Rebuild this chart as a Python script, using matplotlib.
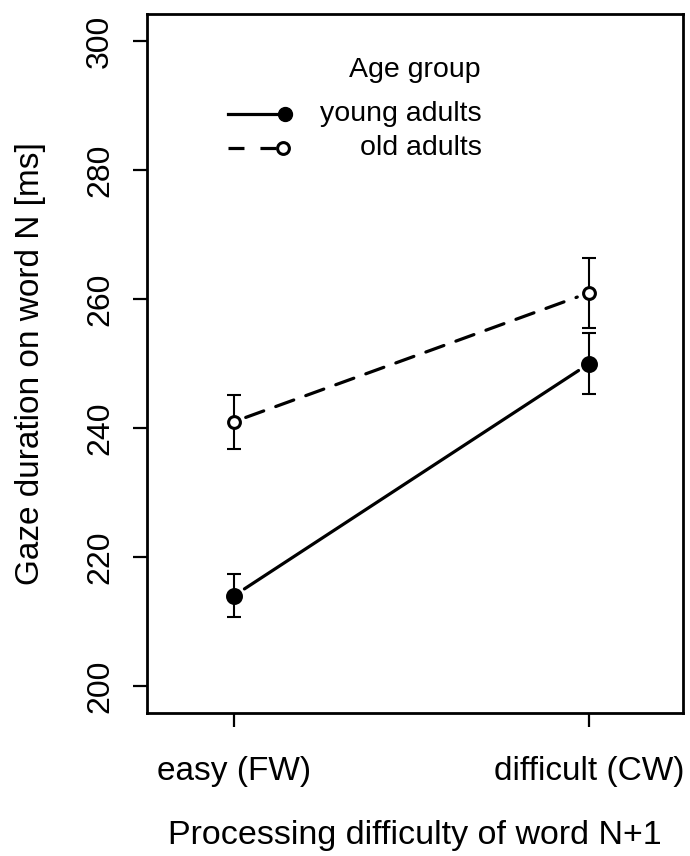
import matplotlib
matplotlib.use("Agg")
import matplotlib.pyplot as plt

conditions = ["easy (FW)", "difficult (CW)"]
young_means = [214, 250]
young_se = [3.3, 4.7]
old_means = [241, 261]
old_se = [4.2, 5.4]
y_ticks = [200, 220, 240, 260, 280, 300]

plt.rcParams['font.family'] = ['Liberation Sans', 'DejaVu Sans']

fig = plt.figure(figsize=(6.9, 8.56), dpi=100)
ax = fig.add_axes([0.213, 0.167, 0.777, 0.817])

xpos = [1, 2]
dash = (0, (6, 4))

def draw_group(means, se, dashed, filled):
    ax.errorbar(xpos, means, yerr=se, fmt='none', ecolor='black',
                elinewidth=1.5, capsize=5, capthick=1.5, zorder=2)
    ax.plot(xpos, means, linestyle='none', marker='o', markersize=10 if filled else 8.5,
            markerfacecolor='black' if filled else 'white',
            markeredgecolor='black', markeredgewidth=2.2, zorder=3)
    ax.annotate('', xy=(xpos[1], means[1]), xytext=(xpos[0], means[0]),
                arrowprops=dict(arrowstyle='-', color='black', lw=2.3,
                                linestyle=dash if dashed else '-',
                                shrinkA=9, shrinkB=9))

draw_group(young_means, young_se, dashed=False, filled=True)
draw_group(old_means, old_se, dashed=True, filled=False)

ax.set_xlim(0.755, 2.265)
ax.set_ylim(195.8, 304.3)
ax.set_xticks(xpos)
ax.set_xticklabels(conditions, fontsize=24)
ax.set_yticks(y_ticks)
ax.set_yticklabels([str(v) for v in y_ticks], fontsize=23, rotation=90, va='center')
ax.tick_params(direction='out', length=10, width=1.6)
ax.tick_params(axis='x', pad=21)
ax.tick_params(axis='y', pad=13)
for s in ax.spines.values():
    s.set_linewidth(2)

ax.set_xlabel("Processing difficulty of word N+1", fontsize=24.5, va='center')
ax.xaxis.set_label_coords(0.5, -0.175)
ax.set_ylabel("Gaze duration on word N [ms]", fontsize=24, va='center')
ax.yaxis.set_label_coords(-0.218, 0.5)

# legend drawn R-style (no box, right-aligned labels)
tr = ax.transAxes
ax.text(0.500, 0.920, "Age group", transform=tr, ha='center', va='center', fontsize=20.5)
ax.plot([0.151, 0.257], [0.856, 0.856], transform=tr, color='black', lw=2.3)
ax.plot([0.257], [0.856], transform=tr, marker='o', markersize=10, color='black')
ax.plot([0.151, 0.257], [0.808, 0.808], transform=tr, color='black', lw=2.3,
        linestyle=(0, (5, 5)))
ax.plot([0.254], [0.808], transform=tr, marker='o', markersize=8.5,
        markerfacecolor='white', markeredgecolor='black', markeredgewidth=2.2)
ax.text(0.625, 0.856, "young adults", transform=tr, ha='right', va='center', fontsize=20.5)
ax.text(0.625, 0.808, "old adults", transform=tr, ha='right', va='center', fontsize=20.5)

fig.savefig("out.png", dpi=100)
